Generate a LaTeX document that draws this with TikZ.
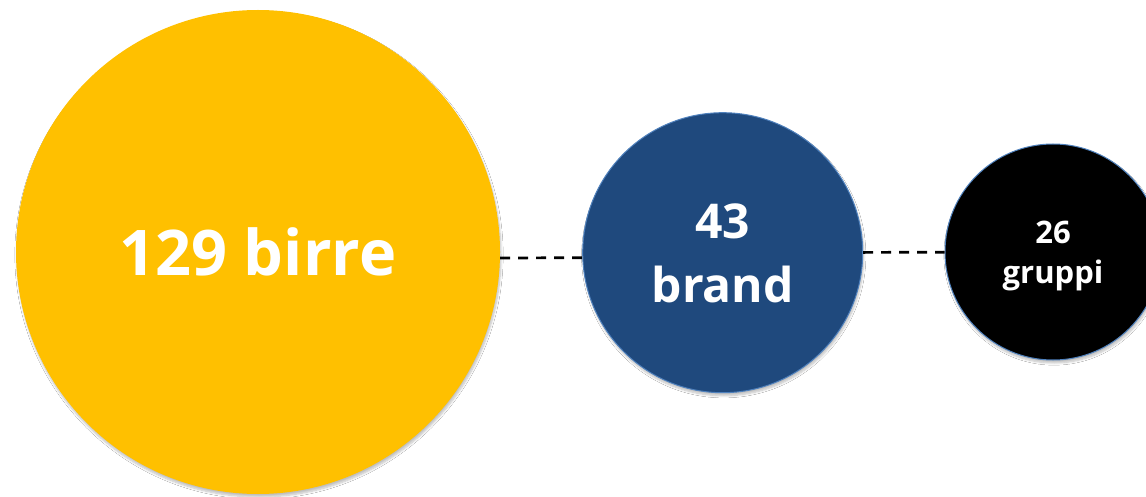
\documentclass[tikz,border=0pt]{standalone}
\usepackage{fontspec}
\setmainfont{Open Sans}
\usetikzlibrary{shadows.blur}
\definecolor{beeryellow}{HTML}{FFC000}
\definecolor{brandblue}{HTML}{1F497D}
\definecolor{rimblue}{HTML}{4F81BD}
\tikzset{
  bubble/.style={circle, inner sep=0pt, text=white, align=center,
    blur shadow={shadow xshift=1pt, shadow yshift=-3pt, shadow opacity=25, shadow blur steps=6}},
  link/.style={draw=black, line width=2.7pt, dash pattern=on 10pt off 8pt}
}
\begin{document}
\begin{tikzpicture}[x=1pt, y=-1pt]
\clip (0,0) rectangle (1146,497);
\fill[white] (0,0) rectangle (1146,497);
\node[bubble, fill=beeryellow, minimum size=484pt,
      font=\fontsize{63}{78}\selectfont\bfseries] (beers) at (258,252) {129 birre};
\node[bubble, fill=brandblue, draw=rimblue, line width=1pt, minimum size=280pt, text depth=0pt,
      font=\fontsize{48}{64}\selectfont\bfseries] (brand) at (722.7,252.7) {43\\brand};
\node[bubble, fill=black, draw=rimblue, line width=1pt, minimum size=216pt, text depth=0pt,
      font=\fontsize{31}{40}\selectfont\bfseries] (groups) at (1053,252) {26\\gruppi};
\draw[link] ([yshift=-6pt]beers.east) -- ([yshift=-5pt]brand.west);
\draw[link] (brand) -- (groups);
\end{tikzpicture}
\end{document}
